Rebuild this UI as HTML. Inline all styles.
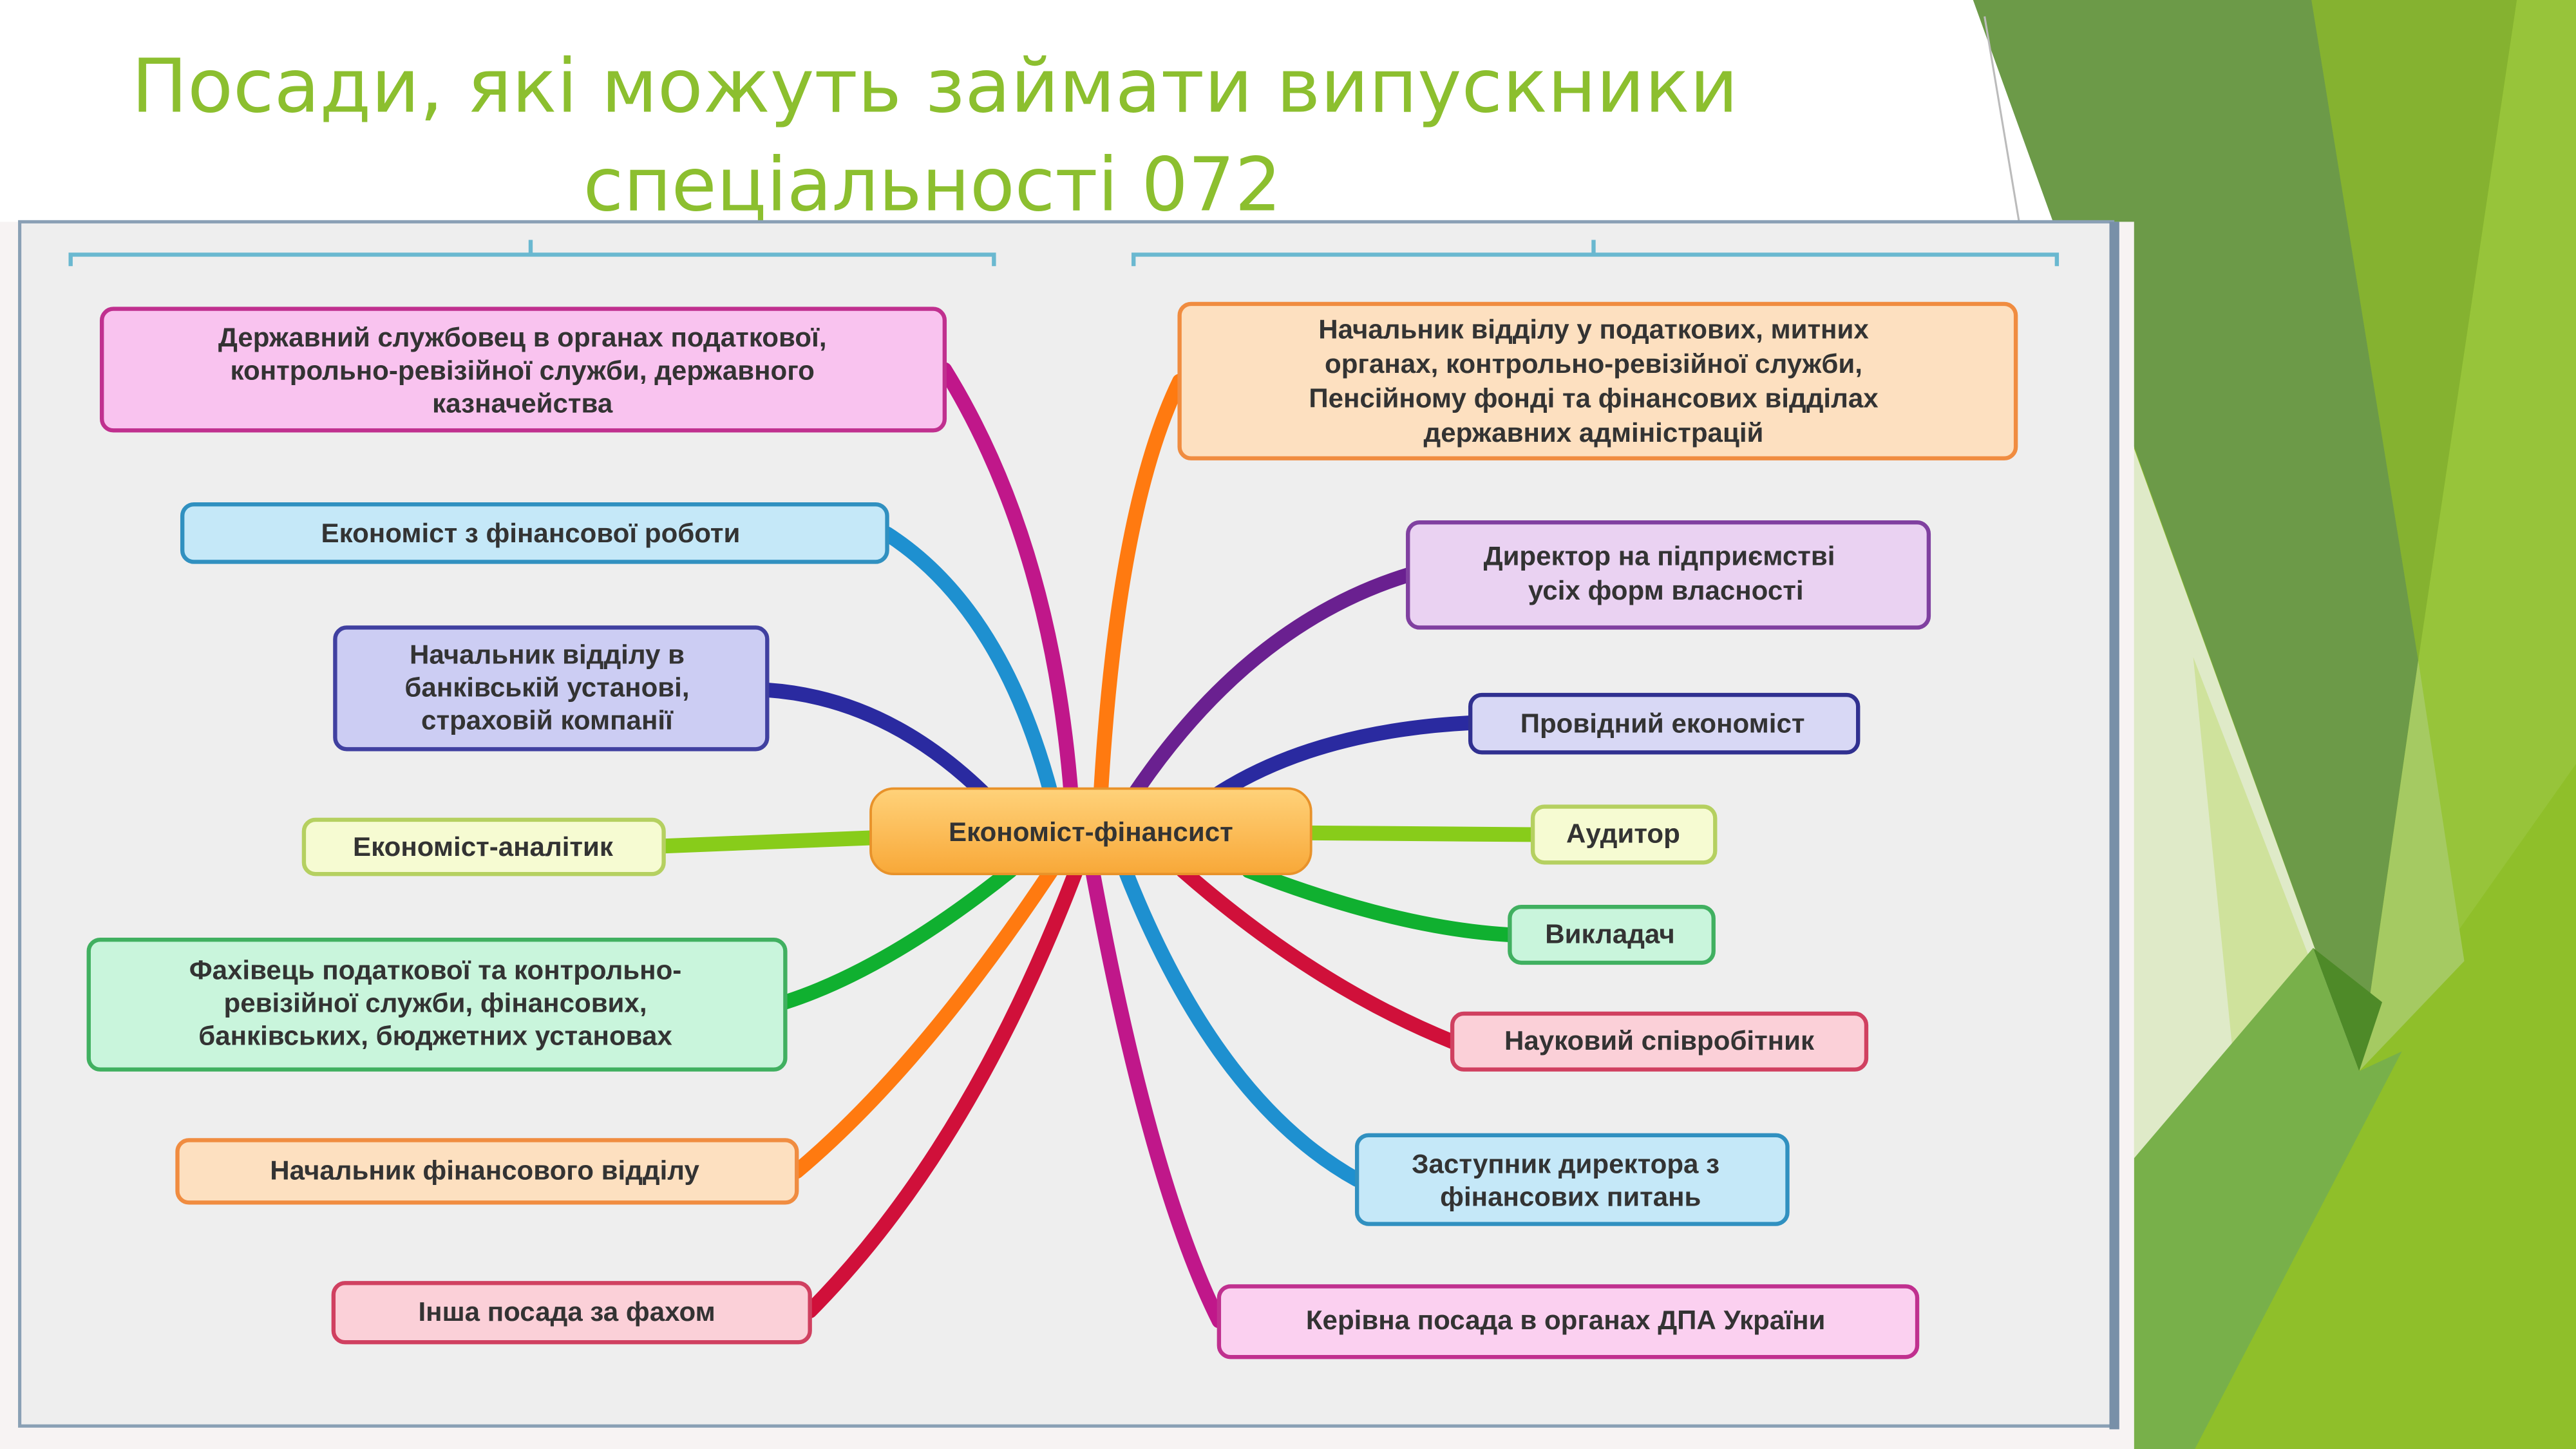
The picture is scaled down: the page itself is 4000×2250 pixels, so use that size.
<!DOCTYPE html>
<html><head><meta charset="utf-8"><style>
html,body{margin:0;padding:0;background:#fff;}
svg{display:block;}
text{font-family:"Liberation Sans",sans-serif;}
.n{font-weight:bold;font-size:16.5px;fill:#333;text-anchor:middle;}
</style></head><body>
<svg width="4000" height="2250" viewBox="0 0 1568 882" xmlns="http://www.w3.org/2000/svg">
<rect width="1568" height="882" fill="#fff"/>
<polygon points="1201,0 1568,0 1568,882 1299,882 1299,135 1290,135" fill="#8fbf2a"/>
<polygon points="1299,273 1436,652 1299,705" fill="#dfeac8"/>
<polygon points="1335,400 1420,620 1360,650" fill="#cfe29c"/>
<polygon points="1201,0 1407,0 1472,402 1436,652" fill="#6c9a48"/>
<polygon points="1407,0 1532,0 1472,402" fill="#85b230"/>
<polygon points="1532,0 1568,0 1568,465 1436,652 1472,402" fill="#97c43a"/>
<polygon points="1472,402 1500,585 1436,652" fill="#a5ca62"/>
<polygon points="1299,705 1408,577 1436,652 1462,640 1336,882 1299,882" fill="#78b04a"/>
<polygon points="1408,577 1436,652 1450,610" fill="#4e8a28"/>
<line x1="1208" y1="10" x2="1229" y2="135" stroke="#bbb" stroke-width="1.2"/>
<text x="80" y="68" font-size="45" fill="#8cbf2f" textLength="978" lengthAdjust="spacingAndGlyphs" style="font-family:'DejaVu Sans','Liberation Sans',sans-serif">Посади, які можуть займати випускники</text>
<text x="355" y="128" font-size="45" fill="#8cbf2f" textLength="425" lengthAdjust="spacingAndGlyphs" style="font-family:'DejaVu Sans','Liberation Sans',sans-serif">спеціальності 072</text>
<rect x="0" y="135" width="1299" height="747" fill="#f7f3f3"/>
<rect x="12" y="135" width="1274" height="733" fill="#eeeeee" stroke="#8aa0b5" stroke-width="2"/>
<rect x="1284" y="135" width="6" height="735" fill="#7890a8"/>
<path d="M43,162 V155 H605 V162 M323,155 V146" fill="none" stroke="#6ab8d0" stroke-width="2.5"/>
<path d="M690,162 V155 H1252 V162 M970,155 V146" fill="none" stroke="#6ab8d0" stroke-width="2.5"/>
<g fill="none" stroke-linecap="round" stroke-width="9">
<path d="M652,484 Q640,330 575,225" stroke="#c0178a"/>
<path d="M640,484 Q610,370 540,325" stroke="#1e90d0"/>
<path d="M600,484 Q540,425 467,420" stroke="#2a2aa0"/>
<path d="M530,510 L404,515" stroke="#88cc1a"/>
<path d="M615,530 Q540,590 478,610" stroke="#10b030"/>
<path d="M640,530 Q560,650 485,713" stroke="#ff7a10"/>
<path d="M655,530 Q590,700 493,798" stroke="#d0103a"/>
<path d="M670,484 Q680,310 718,232" stroke="#ff7a10"/>
<path d="M690,484 Q760,380 857,350" stroke="#6a2090"/>
<path d="M740,484 Q800,445 895,440" stroke="#2a2aa0"/>
<path d="M798,507 L933,508" stroke="#88cc1a"/>
<path d="M760,530 Q850,565 919,569" stroke="#10b030"/>
<path d="M720,530 Q800,600 884,634" stroke="#d0103a"/>
<path d="M685,530 Q740,670 826,718" stroke="#1e90d0"/>
<path d="M665,530 Q700,720 742,804" stroke="#c0178a"/>
</g>
<defs><linearGradient id="cg" x1="0" y1="0" x2="0" y2="1"><stop offset="0" stop-color="#ffd27a"/><stop offset="1" stop-color="#f8a838"/></linearGradient></defs>
<rect x="530" y="480" width="268" height="52" rx="14" fill="url(#cg)" stroke="#e8922a" stroke-width="1.5"/>
<text x="664" y="512" class="n" font-size="17.5">Економіст-фінансист</text>
<g stroke-width="2.5">
<rect x="62" y="188" width="513" height="74" rx="7" fill="#f9c3ef" stroke="#c0308f"/>
<rect x="111" y="307" width="429" height="35" rx="7" fill="#c5e8f8" stroke="#3090c0"/>
<rect x="204" y="382" width="263" height="74" rx="7" fill="#cccdf3" stroke="#4040a0"/>
<rect x="185" y="499" width="219" height="33" rx="7" fill="#f6fbd2" stroke="#b5d060"/>
<rect x="54" y="572" width="424" height="79" rx="7" fill="#c9f5dc" stroke="#40b060"/>
<rect x="108" y="694" width="377" height="38" rx="7" fill="#fde0c0" stroke="#f08c40"/>
<rect x="203" y="781" width="290" height="36" rx="7" fill="#fbd0d8" stroke="#d04060"/>
<rect x="718" y="185" width="509" height="94" rx="7" fill="#fde0c0" stroke="#f08c40"/>
<rect x="857" y="318" width="317" height="64" rx="7" fill="#ead2f2" stroke="#8040a0"/>
<rect x="895" y="423" width="236" height="35" rx="7" fill="#d8d8f5" stroke="#303090"/>
<rect x="933" y="491" width="111" height="34" rx="7" fill="#f6fbd2" stroke="#b5d060"/>
<rect x="919" y="552" width="124" height="34" rx="7" fill="#c9f5dc" stroke="#40b060"/>
<rect x="884" y="617" width="252" height="34" rx="7" fill="#fbd0d8" stroke="#d04060"/>
<rect x="826" y="691" width="262" height="54" rx="7" fill="#c5e8f8" stroke="#3090c0"/>
<rect x="742" y="783" width="425" height="43" rx="7" fill="#fbd0f0" stroke="#c0308f"/>
</g>
<text class="n" x="318" y="211">Державний службовец в органах податкової,</text>
<text class="n" x="318" y="231">контрольно-ревізійної служби, державного</text>
<text class="n" x="318" y="251">казначейства</text>
<text class="n" x="323" y="330">Економіст з фінансової роботи</text>
<text class="n" x="333" y="404">Начальник відділу в</text>
<text class="n" x="333" y="424">банківській установі,</text>
<text class="n" x="333" y="444">страховій компанії</text>
<text class="n" x="294" y="521">Економіст-аналітик</text>
<text class="n" x="265" y="596">Фахівець податкової та контрольно-</text>
<text class="n" x="265" y="616">ревізійної служби, фінансових,</text>
<text class="n" x="265" y="636">банківських, бюджетних установах</text>
<text class="n" x="295" y="718">Начальник фінансового відділу</text>
<text class="n" x="345" y="804">Інша посада за фахом</text>
<text class="n" x="970" y="206">Начальник відділу у податкових, митних</text>
<text class="n" x="970" y="227">органах, контрольно-ревізійної служби,</text>
<text class="n" x="970" y="248">Пенсійному фонді та фінансових відділах</text>
<text class="n" x="970" y="269">державних адміністрацій</text>
<text class="n" x="1010" y="344">Директор на підприємстві</text>
<text class="n" x="1014" y="365">усіх форм власності</text>
<text class="n" x="1012" y="446">Провідний економіст</text>
<text class="n" x="988" y="513">Аудитор</text>
<text class="n" x="980" y="574">Викладач</text>
<text class="n" x="1010" y="639">Науковий співробітник</text>
<text class="n" x="953" y="714">Заступник директора з</text>
<text class="n" x="956" y="734">фінансових питань</text>
<text class="n" x="953" y="809">Керівна посада в органах ДПА України</text>
</svg>
</body></html>
